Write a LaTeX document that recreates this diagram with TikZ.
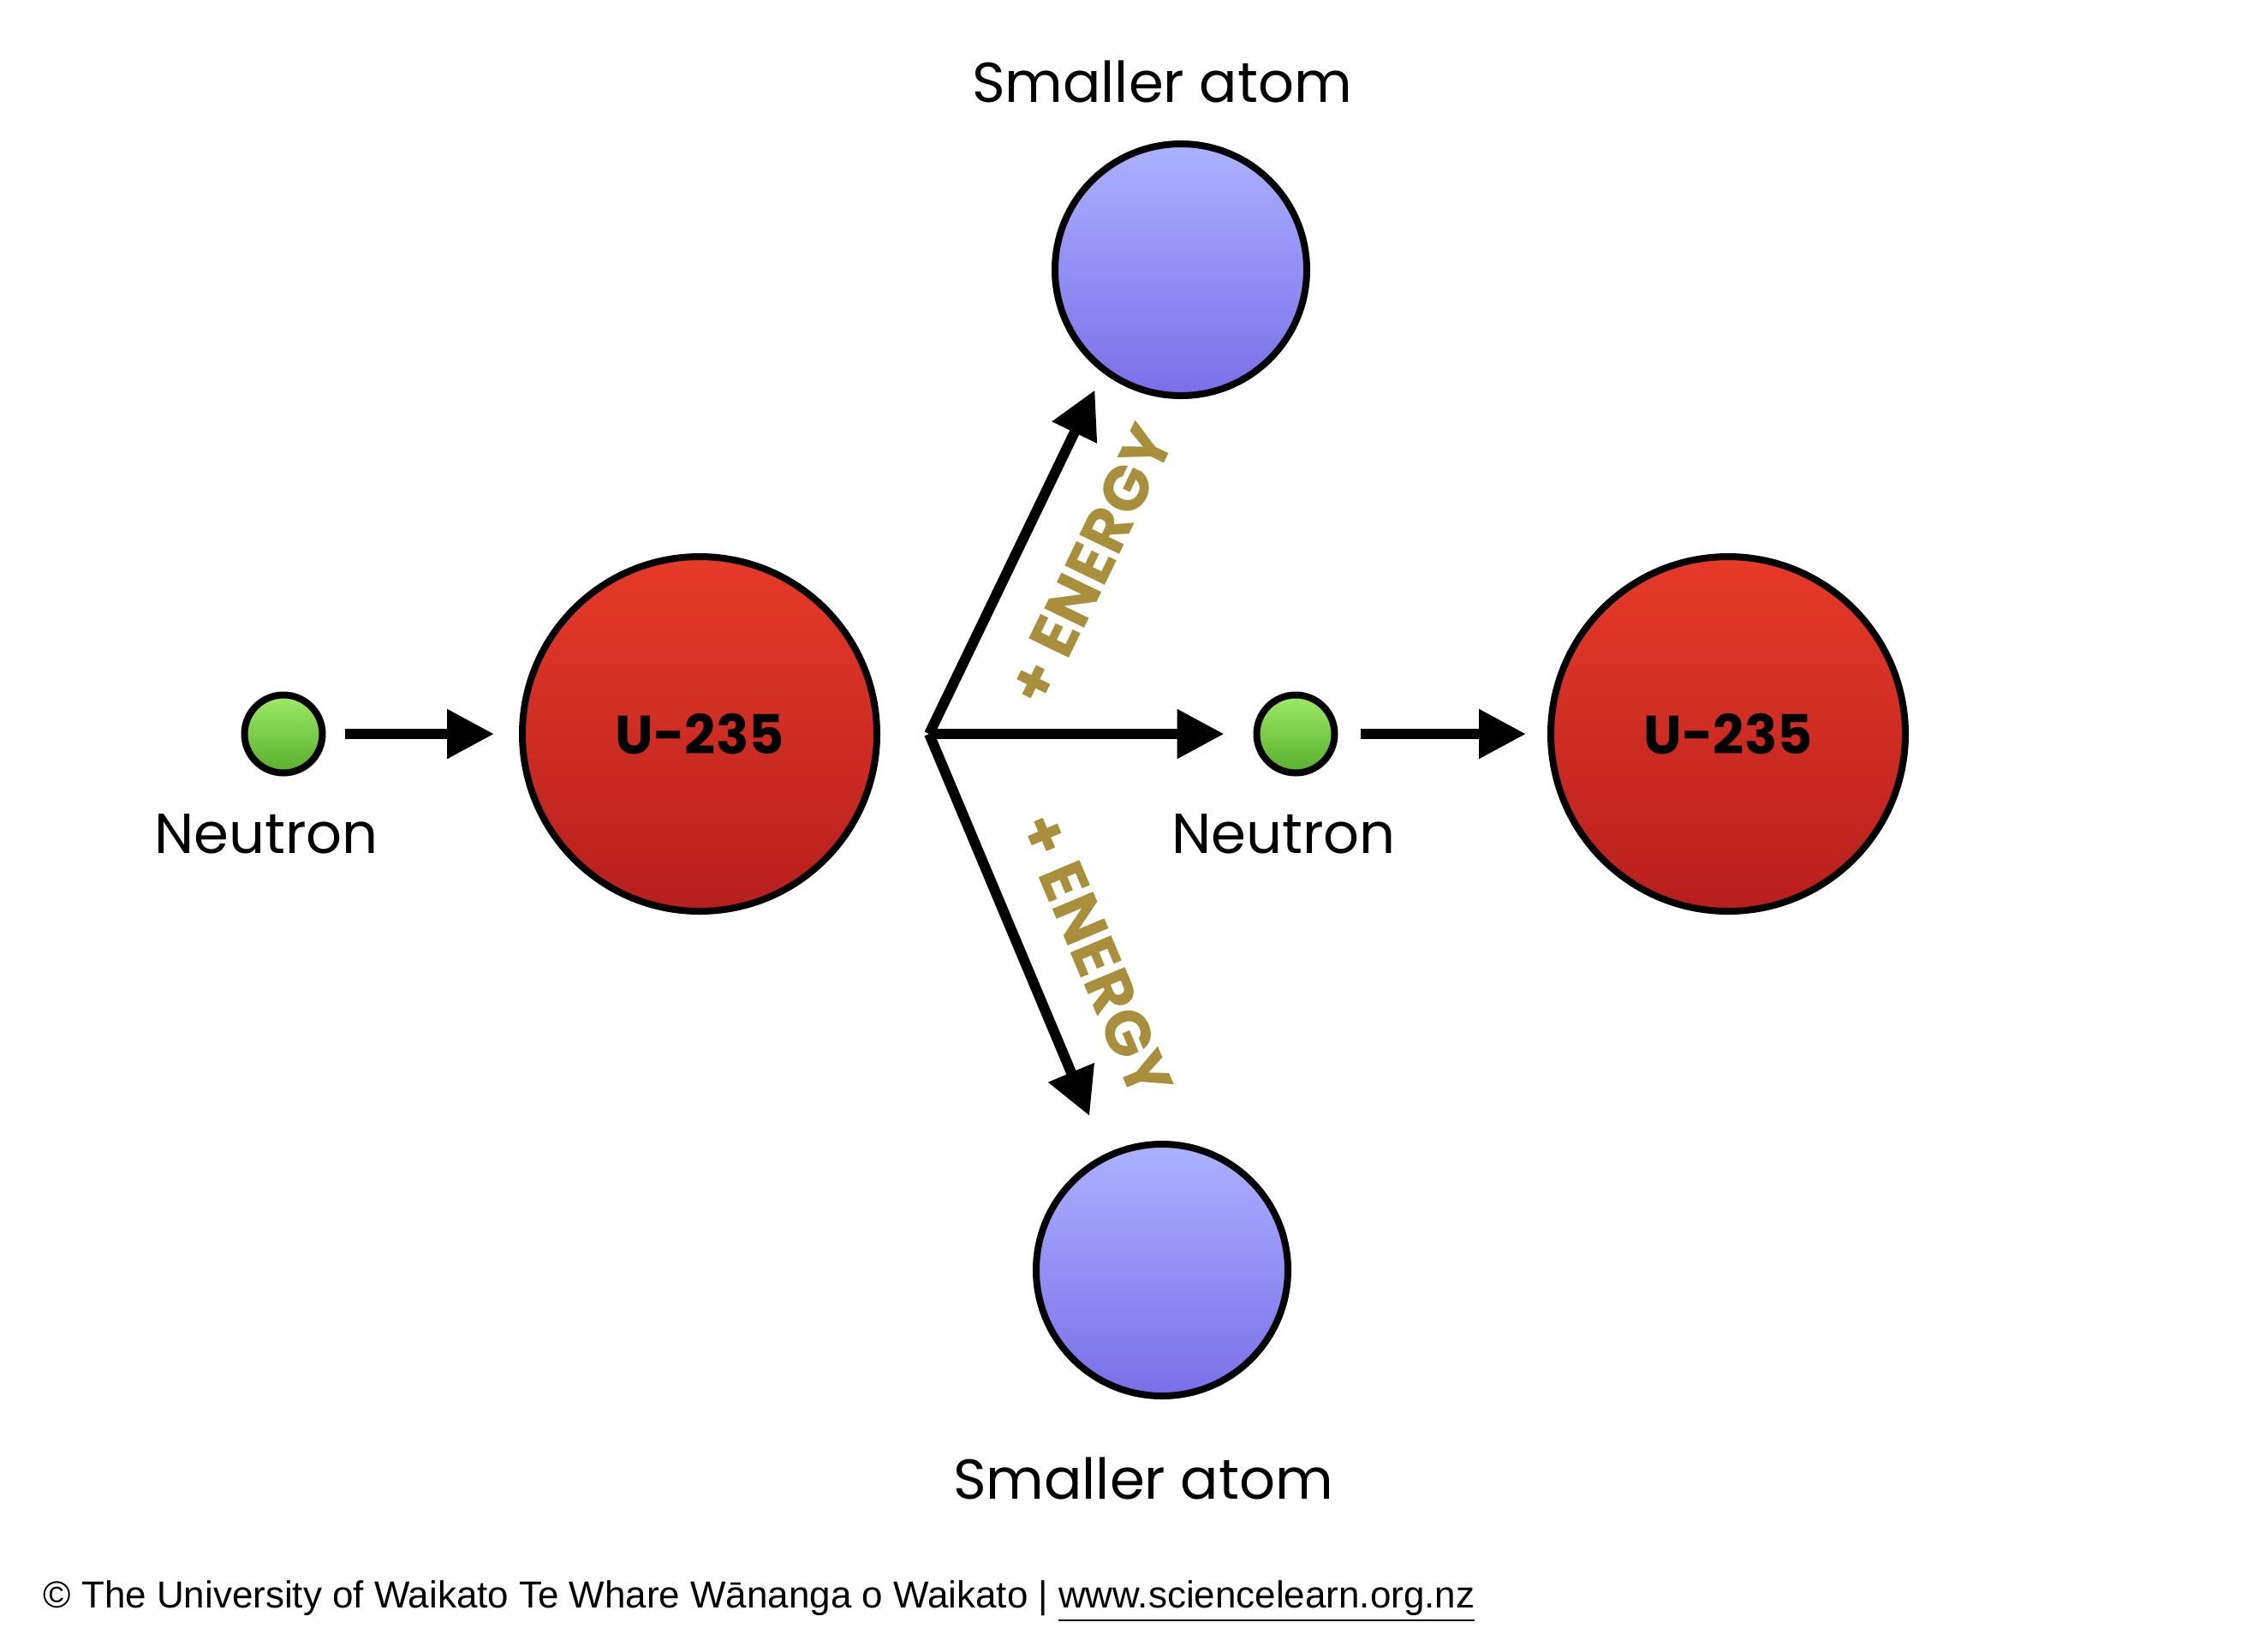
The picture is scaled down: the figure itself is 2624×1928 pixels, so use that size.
\documentclass[tikz,border=0pt]{standalone}
\usepackage{fontspec}
\setmainfont{Poppins}
\newfontfamily\creditfont{Liberation Sans}
\usetikzlibrary{arrows.meta,positioning}
\definecolor{uTop}{HTML}{E63A2A}
\definecolor{uBot}{HTML}{B71F1D}
\definecolor{fragTop}{HTML}{ADB0FF}
\definecolor{fragBot}{HTML}{7A6EE8}
\definecolor{nTop}{HTML}{9DEB66}
\definecolor{nBot}{HTML}{58AE2E}
\definecolor{energyGold}{HTML}{A88F3C}

\begin{document}
\begin{tikzpicture}[x=0.1mm,y=-0.1mm,>={Triangle[length=5.5mm,width=5.5mm]},
  atom/.style={circle,draw,line width=0.8mm},
  uranium/.style={atom,minimum size=41.4mm,top color=uTop,bottom color=uBot,font=\fontsize{18}{22}\selectfont\bfseries},
  fragment/.style={atom,minimum size=29.4mm,top color=fragTop,bottom color=fragBot},
  neutron/.style={atom,minimum size=9.1mm,top color=nTop,bottom color=nBot},
  lbl/.style={inner sep=0pt,font=\fontsize{18.7}{22}\selectfont},
  energy/.style={inner sep=0pt,text=energyGold,font=\fontsize{21}{24}\selectfont\bfseries},
  flow/.style={->,line width=1.2mm}]
\useasboundingbox (0,0) rectangle (2624,1928);
% particles
\node[neutron] (n1) at (331,857) {};
\node[uranium] (u1) at (817,857) {U-235};
\coordinate[right=5.7mm of u1] (fork);
\node[fragment] (top) at (1379,315) {};
\node[fragment] (bottom) at (1357,1483) {};
\node[neutron] (n2) at (1513,857) {};
\node[uranium] (u2) at (2018,857) {U-235};
% labels
\node[lbl,above=4.3mm of top,xshift=-2.2mm] (topLbl) {Smaller atom};
\node[lbl,below=6.7mm of bottom,xshift=-2.2mm] (bottomLbl) {Smaller atom};
\node[lbl,below=4.3mm of n1,xshift=-2mm] (n1Lbl) {Neutron};
\node[lbl,below=4.3mm of n2,xshift=-1.4mm] (n2Lbl) {Neutron};
% arrows
\draw[flow,shorten <=2.2mm,shorten >=2.9mm] (n1) -- (u1);
\draw[flow,shorten >=2.2mm] (fork) -- node[energy,sloped,below=5.1mm,pos=0.555] (energyUp) {+ ENERGY} (top.233);
\draw[flow,shorten >=3.4mm] (fork) -- (n2);
\draw[flow,shorten >=4.8mm] (fork) -- node[energy,sloped,above=4.7mm,pos=0.59] (energyDown) {+ ENERGY} (bottom.116);
\draw[flow,shorten <=2.6mm,shorten >=2.5mm] (n2) -- (u2);
% credit line
\node[anchor=west,inner sep=0pt,font=\creditfont\fontsize{12.5}{14}\selectfont] (credit) at (50,1870)
  {© The University of Waikato Te Whare Wānanga o Waikato | \underline{www.sciencelearn.org.nz}};
\end{tikzpicture}
\end{document}
